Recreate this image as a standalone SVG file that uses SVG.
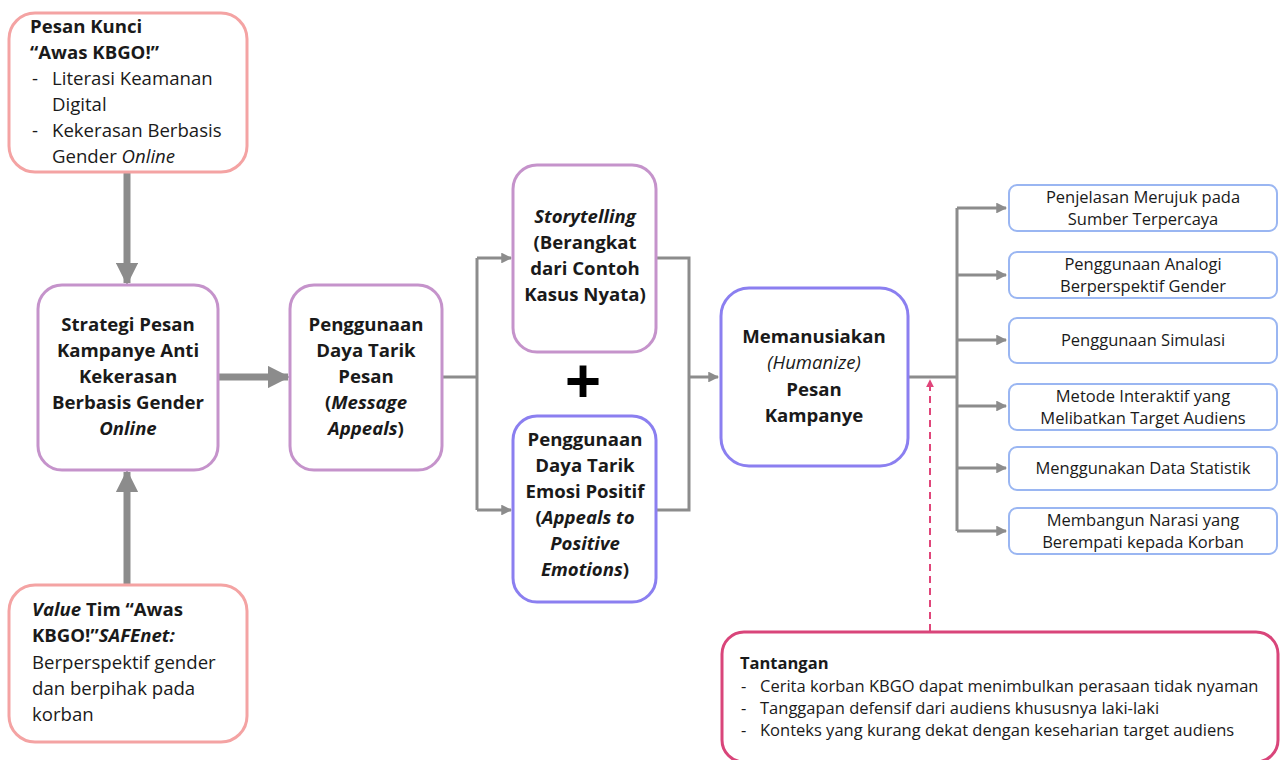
<svg xmlns="http://www.w3.org/2000/svg" width="1280" height="760" viewBox="0 0 1280 760">
<defs>
<style>
text{font-family:"Open Sans","Liberation Sans",sans-serif;fill:#1a1a1a}
.t17{font-size:18.6px}
.b{font-weight:bold}
.i{font-style:italic}
.c{text-anchor:middle}
.s15{font-size:16.5px}
.pink{fill:#fff;stroke:#f4a3a3;stroke-width:3}
.plum{fill:#fff;stroke:#c593cb;stroke-width:3}
.violet{fill:#fff;stroke:#8b7ff0;stroke-width:3}
.blue{fill:#fff;stroke:#9ab6f2;stroke-width:2}
.mag{fill:#fff;stroke:#d9457a;stroke-width:3}
.thick{stroke:#8c8c8c;stroke-width:7;fill:none}
.thin{stroke:#8c8c8c;stroke-width:3;fill:none}
</style>
<marker id="ab" viewBox="0 0 10 10" refX="9" refY="5" markerWidth="3.2" markerHeight="3.2" orient="auto" markerUnits="strokeWidth"><path d="M0,0 L10,5 L0,10 z" fill="#8c8c8c"/></marker>
<marker id="as" viewBox="0 0 10 10" refX="9" refY="5" markerWidth="3.6" markerHeight="3.6" orient="auto" markerUnits="strokeWidth"><path d="M0,0 L10,5 L0,10 z" fill="#8c8c8c"/></marker>
<marker id="ap" viewBox="0 0 10 10" refX="9" refY="5" markerWidth="4" markerHeight="4" orient="auto" markerUnits="strokeWidth"><path d="M0,0 L10,5 L0,10 z" fill="#e0457a"/></marker>
</defs>
<rect width="1280" height="760" fill="#fff"/>

<g id="connectors">
<line class="thick" x1="127" y1="173" x2="127" y2="283" marker-end="url(#ab)"/>
<line class="thick" x1="127" y1="584" x2="127" y2="472" marker-end="url(#ab)"/>
<line class="thick" x1="219" y1="377" x2="288" y2="377" marker-end="url(#ab)"/>
<polyline class="thin" points="443,377 477,377"/>
<line class="thin" x1="477" y1="258" x2="477" y2="510"/>
<line class="thin" x1="477" y1="258" x2="511" y2="258" marker-end="url(#as)"/>
<line class="thin" x1="477" y1="510" x2="511" y2="510" marker-end="url(#as)"/>
<polyline class="thin" points="657,258 689,258 689,510 657,510"/>
<line class="thin" x1="689" y1="377" x2="718" y2="377" marker-end="url(#as)"/>
<line class="thin" x1="909" y1="377" x2="957" y2="377"/>
<line class="thin" x1="957" y1="208" x2="957" y2="531"/>
<line class="thin" x1="957" y1="208" x2="1006" y2="208" marker-end="url(#as)"/>
<line class="thin" x1="957" y1="275" x2="1006" y2="275" marker-end="url(#as)"/>
<line class="thin" x1="957" y1="340" x2="1006" y2="340" marker-end="url(#as)"/>
<line class="thin" x1="957" y1="406" x2="1006" y2="406" marker-end="url(#as)"/>
<line class="thin" x1="957" y1="468" x2="1006" y2="468" marker-end="url(#as)"/>
<line class="thin" x1="957" y1="531" x2="1006" y2="531" marker-end="url(#as)"/>
<line x1="930" y1="631" x2="930" y2="380" stroke="#e0457a" stroke-width="2" stroke-dasharray="7,5" marker-end="url(#ap)"/>
</g>

<g id="pesan-kunci">
<rect class="pink" x="9" y="13" width="238" height="159" rx="26"/>
<text class="t17 b" x="30" y="33">Pesan Kunci</text>
<text class="t17 b" x="30" y="59">“Awas KBGO!”</text>
<text class="t17" x="32" y="85">-</text><text class="t17" x="52" y="85">Literasi Keamanan</text>
<text class="t17" x="52" y="111">Digital</text>
<text class="t17" x="32" y="137">-</text><text class="t17" x="52" y="137">Kekerasan Berbasis</text>
<text class="t17" x="52" y="163">Gender <tspan class="i">Online</tspan></text>
</g>

<g id="strategi">
<rect class="plum" x="38" y="285" width="180" height="185" rx="24"/>
<text class="t17 b c" x="128" y="331">Strategi Pesan</text>
<text class="t17 b c" x="128" y="357">Kampanye Anti</text>
<text class="t17 b c" x="128" y="383">Kekerasan</text>
<text class="t17 b c" x="128" y="409">Berbasis Gender</text>
<text class="t17 b c i" x="128" y="435">Online</text>
</g>

<g id="value">
<rect class="pink" x="9" y="585" width="238" height="157" rx="26"/>
<text class="t17 b" x="32" y="616"><tspan class="i">Value</tspan> Tim “Awas</text>
<text class="t17 b" x="32" y="642">KBGO!”<tspan class="i">SAFEnet:</tspan></text>
<text class="t17" x="32" y="669">Berperspektif gender</text>
<text class="t17" x="32" y="695">dan berpihak pada</text>
<text class="t17" x="32" y="721">korban</text>
</g>

<g id="message-appeals">
<rect class="plum" x="290" y="285" width="152" height="185" rx="24"/>
<text class="t17 b c" x="366" y="331">Penggunaan</text>
<text class="t17 b c" x="366" y="357">Daya Tarik</text>
<text class="t17 b c" x="366" y="383">Pesan</text>
<text class="t17 b c" x="366" y="409">(<tspan class="i">Message</tspan></text>
<text class="t17 b c" x="366" y="435"><tspan class="i">Appeals</tspan>)</text>
</g>

<g id="storytelling">
<rect class="plum" x="513" y="165" width="143" height="187" rx="24"/>
<text class="t17 b c i" x="585" y="223">Storytelling</text>
<text class="t17 b c" x="585" y="249">(Berangkat</text>
<text class="t17 b c" x="585" y="275">dari Contoh</text>
<text class="t17 b c" x="585" y="301">Kasus Nyata)</text>
</g>

<g id="plus">
<text class="b c" x="583" y="404" style="font-size:64px;fill:#000">+</text>
</g>

<g id="emosi-positif">
<rect class="violet" x="513" y="416" width="143" height="186" rx="24"/>
<text class="t17 b c" x="585" y="446">Penggunaan</text>
<text class="t17 b c" x="585" y="472">Daya Tarik</text>
<text class="t17 b c" x="585" y="498">Emosi Positif</text>
<text class="t17 b c" x="585" y="524">(<tspan class="i">Appeals to</tspan></text>
<text class="t17 b c i" x="585" y="550">Positive</text>
<text class="t17 b c" x="585" y="576"><tspan class="i">Emotions</tspan>)</text>
</g>

<g id="memanusiakan">
<rect class="violet" x="721" y="288" width="187" height="178" rx="28"/>
<text class="t17 b c" x="814" y="343">Memanusiakan</text>
<text class="t17 c i" x="814" y="369">(Humanize)</text>
<text class="t17 b c" x="814" y="396">Pesan</text>
<text class="t17 b c" x="814" y="422">Kampanye</text>
</g>

<g id="r1">
<rect class="blue" x="1009" y="185" width="268" height="46" rx="8"/>
<text class="s15 c" x="1143" y="203">Penjelasan Merujuk pada</text>
<text class="s15 c" x="1143" y="225">Sumber Terpercaya</text>
</g>
<g id="r2">
<rect class="blue" x="1009" y="252" width="268" height="46" rx="8"/>
<text class="s15 c" x="1143" y="270">Penggunaan Analogi</text>
<text class="s15 c" x="1143" y="292">Berperspektif Gender</text>
</g>
<g id="r3">
<rect class="blue" x="1009" y="318" width="268" height="45" rx="8"/>
<text class="s15 c" x="1143" y="346">Penggunaan Simulasi</text>
</g>
<g id="r4">
<rect class="blue" x="1009" y="384" width="268" height="46" rx="8"/>
<text class="s15 c" x="1143" y="402">Metode Interaktif yang</text>
<text class="s15 c" x="1143" y="424">Melibatkan Target Audiens</text>
</g>
<g id="r5">
<rect class="blue" x="1009" y="447" width="268" height="43" rx="8"/>
<text class="s15 c" x="1143" y="474">Menggunakan Data Statistik</text>
</g>
<g id="r6">
<rect class="blue" x="1009" y="508" width="268" height="46" rx="8"/>
<text class="s15 c" x="1143" y="526">Membangun Narasi yang</text>
<text class="s15 c" x="1143" y="548">Berempati kepada Korban</text>
</g>

<g id="tantangan">
<rect class="mag" x="722" y="632" width="556" height="130" rx="22"/>
<text class="s15 b" x="740" y="669">Tantangan</text>
<text class="s15" x="741" y="692">-</text><text class="s15" x="760" y="692">Cerita korban KBGO dapat menimbulkan perasaan tidak nyaman</text>
<text class="s15" x="741" y="714">-</text><text class="s15" x="760" y="714">Tanggapan defensif dari audiens khususnya laki-laki</text>
<text class="s15" x="741" y="736">-</text><text class="s15" x="760" y="736">Konteks yang kurang dekat dengan keseharian target audiens</text>
</g>
</svg>
